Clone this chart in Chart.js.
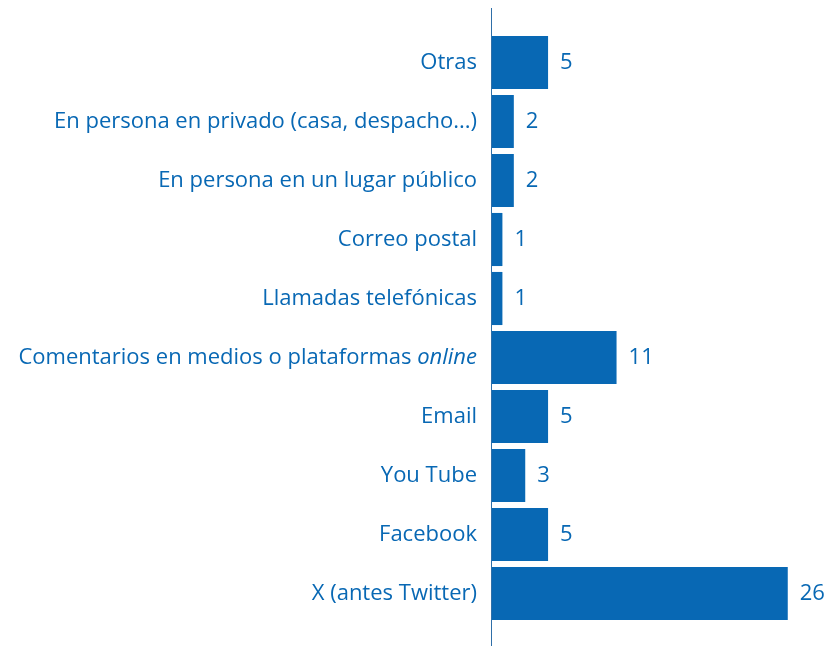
<!DOCTYPE html>
<html>
<head>
<meta charset="utf-8">
<script src="https://cdn.jsdelivr.net/npm/chart.js@4/dist/chart.umd.min.js"></script>
<style>
  html, body { margin: 0; padding: 0; background: #ffffff; }
  #wrap { position: relative; width: 827px; height: 646px; }
</style>
</head>
<body>
<div id="wrap"><canvas id="chart"></canvas></div>
<script>
(function () {
  "use strict";

  const categories = [
    "Otras",
    "En persona en privado (casa, despacho...)",
    "En persona en un lugar público",
    "Correo postal",
    "Llamadas telefónicas",
    "Comentarios en medios o plataformas online",
    "Email",
    "You Tube",
    "Facebook",
    "X (antes Twitter)"
  ];
  const values = [5, 2, 2, 1, 1, 11, 5, 3, 5, 26];
  const italicWords = ["online"];

  const BLUE = "#0868b4";
  const FONT = "'Open Sans', sans-serif";
  const FONT_SIZE = 22;

  // etiquetas de categoría a mano para poder poner "online" en cursiva
  const categoryLabels = {
    id: "categoryLabels",
    afterDraw(chart) {
      const ctx = chart.ctx;
      const y = chart.scales.y;
      const right = chart.chartArea.left - 14;
      ctx.save();
      ctx.fillStyle = BLUE;
      ctx.textBaseline = "middle";
      ctx.textAlign = "left";
      categories.forEach((label, i) => {
        const py = y.getPixelForValue(i);
        const parts = label.split(" ").map((w, k, arr) => ({
          text: w + (k < arr.length - 1 ? " " : ""),
          italic: italicWords.includes(w)
        }));
        const widths = parts.map((p) => {
          ctx.font = (p.italic ? "italic " : "") + FONT_SIZE + "px " + FONT;
          return ctx.measureText(p.text).width;
        });
        let x = right - widths.reduce((a, b) => a + b, 0);
        parts.forEach((p, k) => {
          ctx.font = (p.italic ? "italic " : "") + FONT_SIZE + "px " + FONT;
          ctx.fillText(p.text, x, py);
          x += widths[k];
        });
      });
      ctx.restore();
    }
  };

  const valueLabels = {
    id: "valueLabels",
    afterDatasetsDraw(chart) {
      const ctx = chart.ctx;
      const meta = chart.getDatasetMeta(0);
      ctx.save();
      ctx.fillStyle = BLUE;
      ctx.font = FONT_SIZE + "px " + FONT;
      ctx.textBaseline = "middle";
      ctx.textAlign = "left";
      meta.data.forEach((bar, i) => {
        ctx.fillText(String(values[i]), bar.x + 12, bar.y);
      });
      ctx.restore();
    }
  };

  const axisLine = {
    id: "axisLine",
    afterDatasetsDraw(chart) {
      const ctx = chart.ctx;
      const x = Math.round(chart.scales.x.getPixelForValue(0)) + 0.5;
      ctx.save();
      ctx.strokeStyle = "#2f6fa8";
      ctx.lineWidth = 1;
      ctx.beginPath();
      ctx.moveTo(x, 8);
      ctx.lineTo(x, chart.height);
      ctx.stroke();
      ctx.restore();
    }
  };

  new Chart(document.getElementById("chart"), {
    type: "bar",
    data: {
      labels: categories,
      datasets: [
        {
          data: values,
          backgroundColor: BLUE,
          borderWidth: 0,
          categoryPercentage: 0.9,
          barPercentage: 1
        }
      ]
    },
    options: {
      indexAxis: "y",
      responsive: true,
      maintainAspectRatio: false,
      animation: false,
      layout: {
        padding: { top: 33, bottom: 23, left: 0, right: 5 }
      },
      plugins: {
        legend: { display: false },
        tooltip: { enabled: false }
      },
      scales: {
        x: {
          display: false,
          min: 0,
          max: 29
        },
        y: {
          grid: { display: false },
          border: { display: false },
          ticks: { display: false },
          afterFit: (scale) => { scale.width = 491; }
        }
      }
    },
    plugins: [categoryLabels, valueLabels, axisLine]
  });
})();
</script>
</body>
</html>
